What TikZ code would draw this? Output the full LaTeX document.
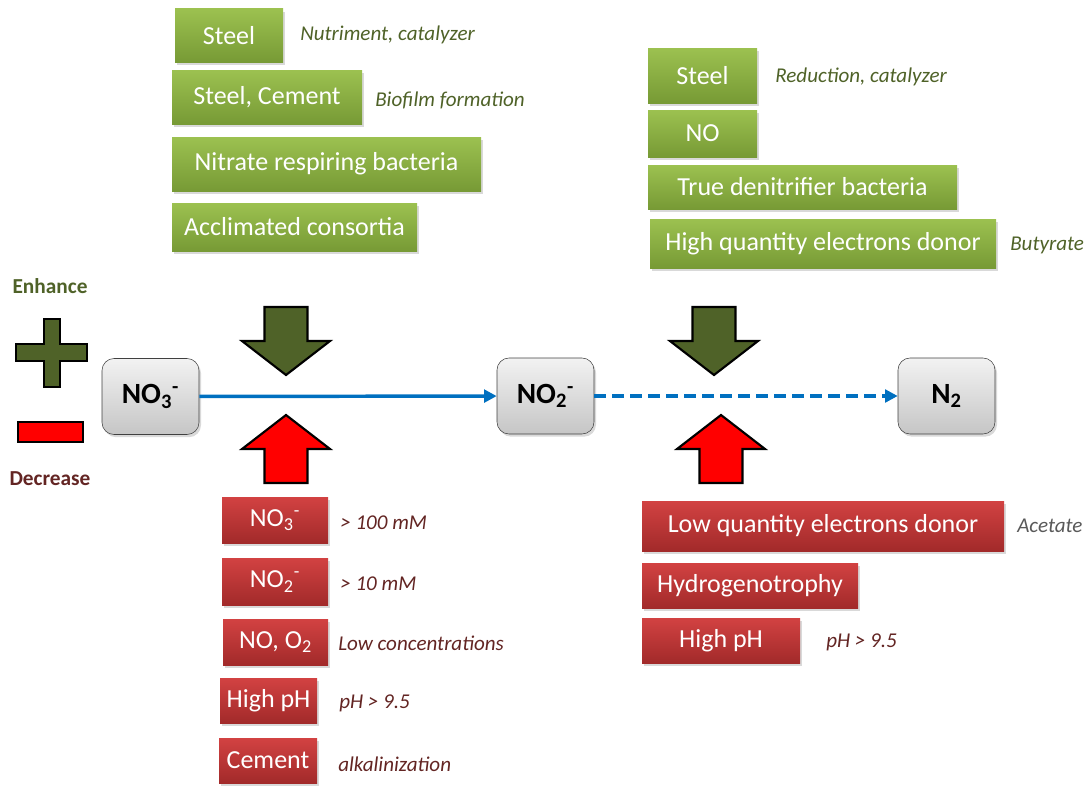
\documentclass[tikz,border=0pt]{standalone}
\usepackage{fontspec}
\setmainfont{Carlito}
\usetikzlibrary{arrows.meta,shadows,positioning}
\definecolor{enColor}{HTML}{4F6228}
\definecolor{deColor}{HTML}{632523}
\definecolor{flowColor}{HTML}{0070C0}
\definecolor{gTop}{HTML}{9CC150}
\definecolor{gBot}{HTML}{779A35}
\definecolor{rTop}{HTML}{D24242}
\definecolor{rBot}{HTML}{A22A2A}
\definecolor{acColor}{HTML}{595959}
\tikzset{
	box/.style={draw=none, inner sep=0, text=white,
		font=\fontsize{19.5}{22}\selectfont,
		drop shadow={shadow xshift=1.5pt, shadow yshift=-2pt, opacity=.3}},
	gbox/.style={box, top color=gTop, bottom color=gBot},
	rbox/.style={box, top color=rTop, bottom color=rBot},
	species/.style={draw=black!75, rounded corners=9pt, inner sep=0,
		top color=gray!10, bottom color=gray!45,
		minimum width=72.75pt, minimum height=57pt,
		font=\bfseries\fontsize{22}{24}\selectfont,
		drop shadow={shadow xshift=1.5pt, shadow yshift=-2pt, opacity=.3}},
	lab/.style={anchor=west, inner sep=0, font=\itshape\fontsize{15.8}{18}\selectfont},
	glab/.style={lab, text=enColor},
	rlab/.style={lab, text=deColor},
	flow/.style={draw=flowColor, line width=2.6pt, -{Triangle[length=9.5pt,width=9.5pt]}},
	pics/blockarrow/.style={code={
		\draw[line width=1.6pt, miter limit=10, fill=#1] (-21.5,-68) -- (21.5,-68) -- (21.5,-34)
			-- (44,-34) -- (0,0) -- (-44,-34) -- (-21.5,-34) -- cycle;}}
}
\newcommand{\nox}[2]{NO\textsubscript{#1}\textsuperscript{#2}}

\begin{document}
\begin{tikzpicture}[x=0.75pt, y=-0.75pt]
	\useasboundingbox (0,0) rectangle (1088,785);
	% legend
	\node[font=\bfseries\fontsize{16}{18}\selectfont, text=enColor] (enh) at (50,286) {Enhance};
	\node[font=\bfseries\fontsize{16}{18}\selectfont, text=deColor] (dec) at (50,479) {Decrease};
	\draw[line width=1.6pt, fill=enColor] (44,319) -- (60,319) -- (60,344) -- (87,344) -- (87,361)
		-- (60,361) -- (60,387) -- (44,387) -- (44,361) -- (16,361) -- (16,344) -- (44,344) -- cycle;
	\draw[line width=1.6pt, fill=red] (18,422) rectangle (83,442);
	% species
	\node[species] (no3) at (150.5,396.5) {\nox{3}{-}};
	\node[species] (no2) at (545.5,396) {\nox{2}{-}};
	\node[species] (n2) at (946.5,396) {N\textsubscript{2}};
	\draw[flow] (no3) -- (no2);
	\draw[flow, dash pattern=on 9pt off 4.5pt] (no2) -- (n2);
	% block arrows
	\pic at (286,375) {blockarrow=enColor};
	\pic[rotate=180] at (286,415) {blockarrow=red};
	\pic at (714,375) {blockarrow=enColor};
	\pic[rotate=180] at (721,415) {blockarrow=red};
	% nitrate reduction, enhance
	\node[gbox, minimum width=81pt, minimum height=40pt] (gs1) at (229,35.5) {Steel};
	\node[gbox, minimum width=142.5pt, minimum height=40.5pt] (gs2) at (267,97) {Steel, Cement};
	\node[gbox, minimum width=231.75pt, minimum height=40.5pt] (gs3) at (326.5,164) {Nitrate respiring bacteria};
	\node[gbox, minimum width=183.75pt, minimum height=36pt] (gs4) at (294.5,227) {Acclimated consortia};
	\node[glab] (gs1lab) at (300,35) {Nutriment, catalyzer};
	\node[glab] (gs2lab) at (375,100) {Biofilm formation};
	% nitrite reduction, enhance
	\node[gbox, minimum width=81.75pt, minimum height=41.25pt] (gr1) at (702.5,75.5) {Steel};
	\node[gbox, minimum width=81.75pt, minimum height=35.25pt] (gr2) at (702.5,133.5) {NO};
	\node[gbox, minimum width=231.75pt, minimum height=33pt] (gr3) at (802.5,187) {True denitrifier bacteria};
	\node[gbox, minimum width=259.5pt, minimum height=36.75pt] (gr4) at (823,243.5) {High quantity electrons donor};
	\node[glab] (gr1lab) at (775,77) {Reduction, catalyzer};
	\node[glab] (gr4lab) at (1010,245) {Butyrate};
	% nitrate reduction, decrease
	\node[rbox, minimum width=79.5pt, minimum height=34.5pt] (rl1) at (275,520) {\nox{3}{-}};
	\node[rbox, minimum width=79.5pt, minimum height=35.25pt] (rl2) at (275,581.5) {\nox{2}{-}};
	\node[rbox, minimum width=78.75pt, minimum height=34.5pt] (rl3) at (275.5,642) {NO, O\textsubscript{2}};
	\node[rbox, minimum width=72.75pt, minimum height=33.75pt] (rl4) at (268.5,700.5) {High pH};
	\node[rbox, minimum width=73.5pt, minimum height=33.75pt] (rl5) at (268,760.5) {Cement};
	\node[rlab] (rl1lab) at (340,523) {> 100 mM};
	\node[rlab] (rl2lab) at (340,584) {> 10 mM};
	\node[rlab] (rl3lab) at (338,643) {Low concentrations};
	\node[rlab] (rl4lab) at (339,703) {pH > 9.5};
	\node[rlab] (rl5lab) at (338,764) {alkalinization};
	% nitrite reduction, decrease
	\node[rbox, minimum width=271.5pt, minimum height=37.5pt] (rr1) at (823,526) {Low quantity electrons donor};
	\node[rbox, minimum width=162pt, minimum height=33.75pt] (rr2) at (750,585.5) {Hydrogenotrophy};
	\node[rbox, minimum width=118.5pt, minimum height=33.75pt] (rr3) at (721,640.5) {High pH};
	\node[lab, text=acColor] (rr1lab) at (1017,526) {Acetate};
	\node[rlab] (rr3lab) at (826,642) {pH > 9.5};
\end{tikzpicture}
\end{document}
